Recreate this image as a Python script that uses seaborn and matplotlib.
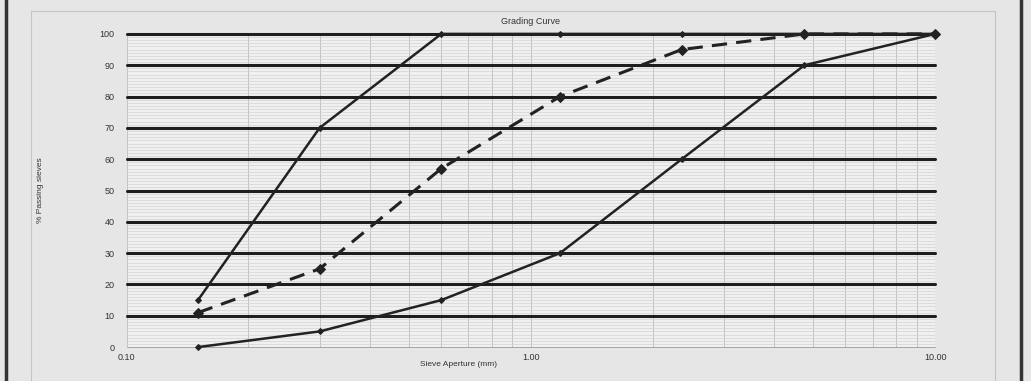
import matplotlib
matplotlib.use("Agg")
import matplotlib.pyplot as plt
import matplotlib.ticker as mticker
from matplotlib.patches import Rectangle
import numpy as np
import pandas as pd
import seaborn as sns

# Sieve apertures (mm) and percentage passing for each curve
sieve_mm = [0.15, 0.30, 0.60, 1.18, 2.36, 4.75, 10.0]
upper_limit = [15, 70, 100, 100, 100, 100, 100]
sample = [11, 25, 57, 80, 95, 100, 100]
lower_limit = [0, 5, 15, 30, 60, 90, 100]

x_ticks = [0.1, 1.0, 10.0]
x_tick_labels = ["0.10", "1.00", "10.00"]
y_ticks = list(range(0, 101, 10))

sns.set_theme(style="white")
plt.rcParams["font.family"] = ["Liberation Sans", "DejaVu Sans"]

fig = plt.figure(figsize=(10.31, 3.81), dpi=100)
fig.patch.set_facecolor("#e6e6e6")
ax = fig.add_axes([0.123, 0.089, 0.784, 0.822])
ax.set_facecolor("#f0f0f0")

# page frame
fig.add_artist(Rectangle((0.006, -0.05), 0.984, 1.2, transform=fig.transFigure,
                         fill=False, edgecolor="#333333", linewidth=2.5))
fig.add_artist(Rectangle((0.03, 0.0), 0.935, 0.97, transform=fig.transFigure,
                         fill=False, edgecolor="#c4c4c4", linewidth=0.8))

df = pd.DataFrame({
    "sieve": sieve_mm * 3,
    "passing": upper_limit + sample + lower_limit,
    "curve": ["upper"] * 7 + ["sample"] * 7 + ["lower"] * 7,
})

ax.set_xscale("log")
ax.set_xlim(0.1, 10.0)
ax.set_ylim(0, 100)

# grid: thin minor lines, heavy major horizontals
ax.yaxis.set_minor_locator(mticker.MultipleLocator(1))
ax.xaxis.set_minor_locator(mticker.LogLocator(base=10, subs=np.arange(2, 10)))
ax.grid(which="minor", axis="y", color="#d2d2d2", linewidth=0.5)
ax.grid(which="minor", axis="x", color="#b0b0b0", linewidth=0.5)
ax.grid(which="major", axis="x", color="#b0b0b0", linewidth=0.5)
ax.grid(which="major", axis="y", color="#1e1e1e", linewidth=2.2)
ax.set_axisbelow(True)

styles = {
    "upper": dict(ls="-", marker="D", ms=3, lw=1.8),
    "sample": dict(ls=(0, (5, 3)), marker="D", ms=5, lw=2.2),
    "lower": dict(ls="-", marker="D", ms=3, lw=1.8),
}
for name, st in styles.items():
    sub = df[df["curve"] == name]
    sns.lineplot(data=sub, x="sieve", y="passing", ax=ax, color="#222222",
                 linestyle=st["ls"], linewidth=st["lw"], marker=st["marker"],
                 markersize=st["ms"], markeredgecolor="#222222", legend=False,
                 clip_on=False)

ax.set_xticks(x_ticks)
ax.set_xticklabels(x_tick_labels)
ax.xaxis.set_minor_formatter(mticker.NullFormatter())
ax.set_yticks(y_ticks)
ax.tick_params(axis="both", which="both", length=0, labelsize=6.5, colors="#333333")
ax.tick_params(axis="y", pad=9)
ax.tick_params(axis="x", pad=4)
ygrid = ax.get_ygridlines()
for gl in ygrid:
    gl.set_clip_on(False)
# the baseline at 0 is a light rule rather than a heavy one
ygrid[0].set_linewidth(0.6)
ygrid[0].set_color("#9a9a9a")

for s in ax.spines.values():
    s.set_visible(False)

ax.set_title("Grading Curve", fontsize=6.5, color="#333333", pad=7)
ax.set_xlabel("Sieve Aperture (mm)", fontsize=6, color="#333333")
ax.set_ylabel("% Passing sieves", fontsize=6, color="#333333")
ax.xaxis.set_label_coords(0.41, -0.045)
ax.yaxis.set_label_coords(-0.102, 0.5)

fig.savefig("out.png", dpi=100, facecolor=fig.get_facecolor())
